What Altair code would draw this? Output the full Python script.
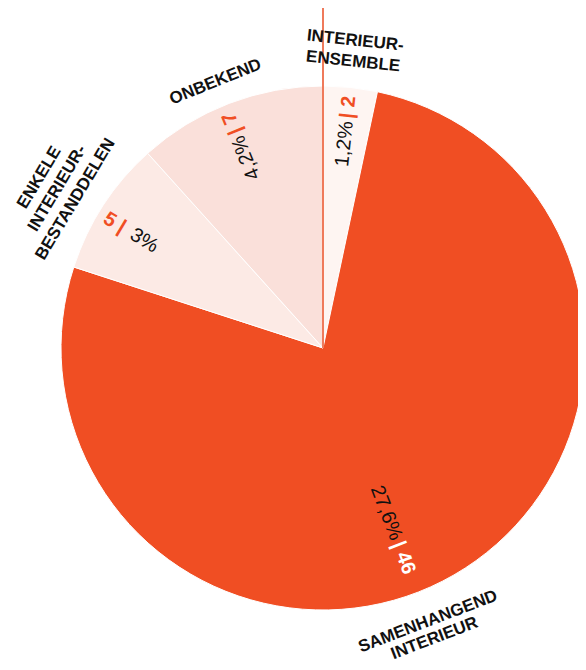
import math
import altair as alt
import pandas as pd

# ---- data -------------------------------------------------------------
keys = ["ensemble", "samenhangend", "enkele", "onbekend"]
categories = ["INTERIEUR-\nENSEMBLE", "SAMENHANGEND\nINTERIEUR",
              "ENKELE\nINTERIEUR-\nBESTANDDELEN", "ONBEKEND"]
counts = [2, 46, 5, 7]
percents = ["1,2%", "27,6%", "3%", "4,2%"]

# ---- styles -----------------------------------------------------------
colors = ["#FEF5F2", "#F04E23", "#FCEAE5", "#FAE0DA"]
count_colors = ["#F04E23", "#FFFFFF", "#F04E23", "#F04E23"]
FONT = "Liberation Sans"
CX, CY = 315, 340          # pie centre in view coordinates
R = 262
LINE_H = 21
total = sum(counts)
theta_scale = alt.Scale(domain=[0, total])

# per-slice label tweaks: (theta shift in degrees, radius of the "|" divider, inward reading?)
label_style = {
    "ensemble": (0, 234, False),
    "samenhangend": (9, 211, False),
    "enkele": (-2, 229, True),
    "onbekend": (-1, 234, False),
}

df = pd.DataFrame({"key": keys, "count": counts, "order": list(range(len(keys)))})

arcs = alt.Chart(df).mark_arc(outerRadius=R, stroke="white", strokeWidth=1).encode(
    theta=alt.Theta("count:Q", stack=True, scale=theta_scale),
    order=alt.Order("order:Q"),
    color=alt.Color("key:N", scale=alt.Scale(domain=keys, range=colors), legend=None),
    x=alt.value(CX),
    y=alt.value(CY),
)

rule = alt.Chart(pd.DataFrame({"k": [0]})).mark_rule(color="#EF7A5B", strokeWidth=2).encode(
    x=alt.value(CX), y=alt.value(0), y2=alt.value(CY)
)

layers = [arcs, rule]
cum = 0
for i, k in enumerate(keys):
    mid = cum + counts[i] / 2
    cum += counts[i]
    shift, rbar, inward = label_style[k]
    mid_deg = mid / total * 360 + shift
    off = math.radians(shift)
    ldf = pd.DataFrame({
        "mid": [mid],
        "cat": [categories[i]],
        "pct": [percents[i]],
        "cnt": [(f"{counts[i]} |" if inward else f"| {counts[i]}")],
    })
    enc = dict(
        theta=alt.Theta("mid:Q", stack=False, scale=theta_scale),
        x=alt.value(CX),
        y=alt.value(CY),
    )
    # value labels (radial)
    if inward:
        ang = (mid_deg + 90) % 360
        pct_align, pct_r = "left", rbar - 6
        cnt_align, cnt_r = "right", rbar + 3
    else:
        ang = (mid_deg - 90) % 360
        pct_align, pct_r = "right", rbar - 6
        cnt_align, cnt_r = "left", rbar - 3
    layers.append(alt.Chart(ldf).mark_text(
        radius=pct_r, thetaOffset=off, angle=ang, align=pct_align, baseline="middle",
        font=FONT, fontSize=20, color="#111111").encode(text="pct:N", **enc))
    layers.append(alt.Chart(ldf).mark_text(
        radius=cnt_r, thetaOffset=off, angle=ang, align=cnt_align, baseline="middle",
        font=FONT, fontSize=20, fontWeight="bold", color=count_colors[i]).encode(text="cnt:N", **enc))
    # category labels (tangential)
    nlines = categories[i].count("\n") + 1
    top = math.cos(math.radians(mid_deg)) > 0
    if top:
        cang = mid_deg % 360
        cbase, crad, lh = "bottom", 278 + (nlines - 1) * (LINE_H + 1), LINE_H
    else:
        cang = (mid_deg - 180) % 360
        cbase, crad, lh = "top", 285, LINE_H - 3
    layers.append(alt.Chart(ldf).mark_text(
        radius=crad, thetaOffset=off, angle=cang, align="center", baseline=cbase,
        lineBreak="\n", lineHeight=lh, font=FONT, fontSize=17,
        fontWeight="bold", color="#111111").encode(text="cat:N", **enc))

chart = alt.layer(*layers).properties(
    width=570, height=654, padding=0,
    autosize=alt.AutoSizeParams(type="none"),
).configure_view(stroke=None)

chart.save("out.html", embed_options={"renderer": "svg", "actions": False})
